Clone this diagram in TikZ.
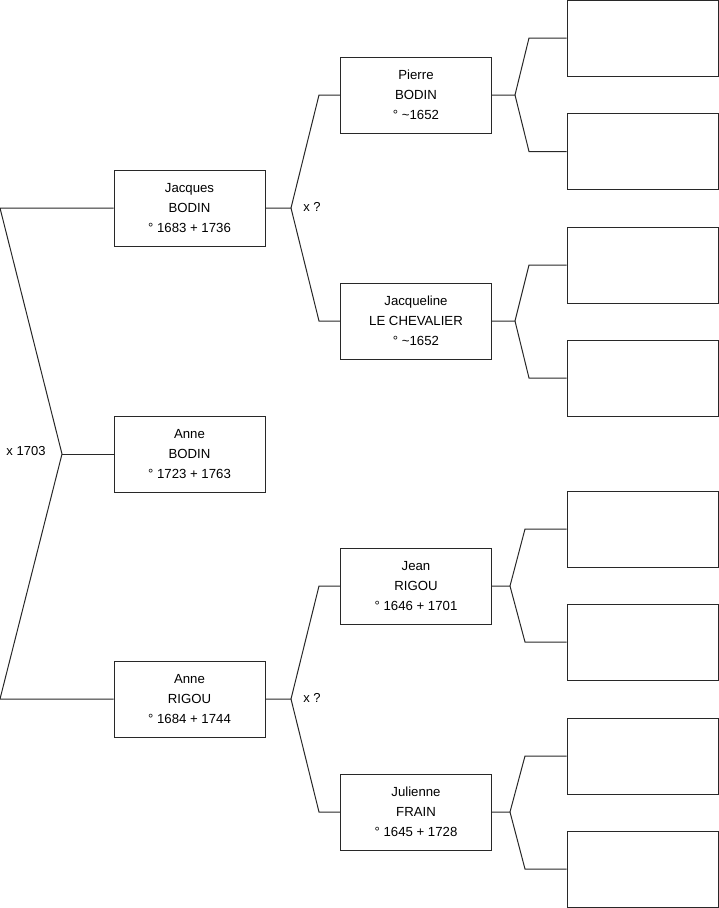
\documentclass[tikz,border=0pt]{standalone}
\usepackage{fontspec}
\setmainfont{Liberation Sans}
\usepackage{tikz}
\definecolor{linegray}{RGB}{40,40,40}

\tikzset{
  person/.style={draw=linegray,line width=1pt,minimum width=151pt,minimum height=76pt,
    inner sep=0pt,align=center,font=\fontsize{13.2}{20}\selectfont},
  blank/.style={draw=linegray,line width=1pt,minimum width=151pt,minimum height=76pt,inner sep=0pt},
  link/.style={draw=linegray,line width=1pt},
  marriage/.style={font=\fontsize{13}{14}\selectfont,inner sep=0pt}
}

\begin{document}
\begin{tikzpicture}[x=1pt,y=-1pt]
\useasboundingbox (0,0) rectangle (719,908);

\node[person] (jacques) at (189.5,208) {Jacques\\BODIN\\° 1683 + 1736};
\node[person] (anne) at (189.5,454) {Anne\\BODIN\\° 1723 + 1763};
\node[person] (anneR) at (189.5,699) {Anne\\RIGOU\\° 1684 + 1744};

\node[person] (pierre) at (416,95) {Pierre\\BODIN\\° \textasciitilde1652};
\node[person] (jacqueline) at (416,321) {Jacqueline\\LE CHEVALIER\\° \textasciitilde1652};
\node[person] (jean) at (416,586) {Jean\\RIGOU\\° 1646 + 1701};
\node[person] (julienne) at (416,812) {Julienne\\FRAIN\\° 1645 + 1728};

\foreach \n/\y in {b1/38,b2/151.5,b3/265,b4/378,b5/529,b6/642,b7/756,b8/869}
  \node[blank] (\n) at (642.5,\y) {};

\node[marriage] (m0) at (26,451) {x 1703};
\node[marriage] (m1) at (312,207) {x ?};
\node[marriage] (m2) at (312,698) {x ?};

% parents of Anne
\coordinate (top) at (0,208);
\coordinate (bot) at (0,699);
\coordinate (f0) at (62,454);
\path[link] (jacques.west) -- (top) -- (f0) -- (bot) -- (anneR.west);
\path[link] (f0) -- (anne.west);

% grandparents
\coordinate (f1) at (291,208);
\coordinate (f2) at (291,699);
\path[link] (jacques.east) -- (f1) -- (319,95) -- (pierre.west);
\path[link] (f1) -- (319,321) -- (jacqueline.west);
\path[link] (anneR.east) -- (f2) -- (319,586) -- (jean.west);
\path[link] (f2) -- (319,812) -- (julienne.west);

% great-grandparents
\coordinate (g1) at (515,95);
\coordinate (g2) at (515,321);
\coordinate (g3) at (510,586);
\coordinate (g4) at (510,812);
\path[link] (pierre.east) -- (g1) -- (529,38) -- (b1.west);
\path[link] (g1) -- (529,151.5) -- (b2.west);
\path[link] (jacqueline.east) -- (g2) -- (529,265) -- (b3.west);
\path[link] (g2) -- (529,378) -- (b4.west);
\path[link] (jean.east) -- (g3) -- (525,529) -- (b5.west);
\path[link] (g3) -- (525,642) -- (b6.west);
\path[link] (julienne.east) -- (g4) -- (525,756) -- (b7.west);
\path[link] (g4) -- (525,869) -- (b8.west);
\end{tikzpicture}
\end{document}
